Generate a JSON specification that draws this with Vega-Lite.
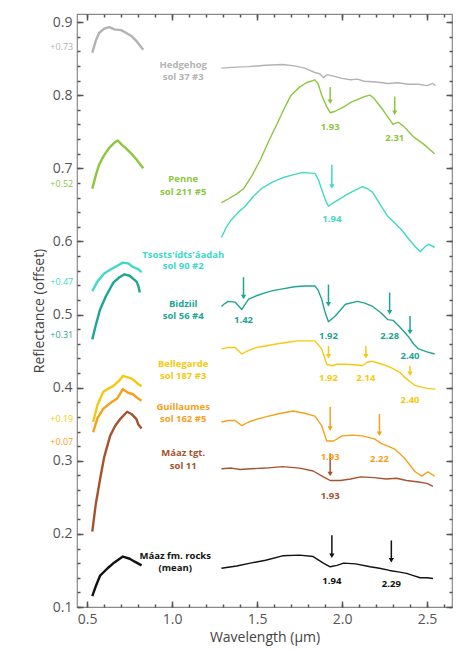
{
  "$schema": "https://vega.github.io/schema/vega-lite/v6.json",
  "width": 375,
  "height": 593,
  "autosize": {"type": "none"},
  "padding": {"left": 77, "top": 14, "right": 15, "bottom": 43},
  "config": {"view": {"stroke": "#8a8a8a", "strokeWidth": 1.2}, "font": "Open Sans", "axis": {"tickColor": "#555", "tickWidth": 1.5, "ticks": true}},
  "datasets": {
    "spectra": [
      {"sample":"Hedgehog","seg":"VNIR","wl":0.53,"r":0.858},{"sample":"Hedgehog","seg":"VNIR","wl":0.55,"r":0.874},{"sample":"Hedgehog","seg":"VNIR","wl":0.57,"r":0.885},{"sample":"Hedgehog","seg":"VNIR","wl":0.6,"r":0.891},{"sample":"Hedgehog","seg":"VNIR","wl":0.63,"r":0.893},{"sample":"Hedgehog","seg":"VNIR","wl":0.66,"r":0.89},{"sample":"Hedgehog","seg":"VNIR","wl":0.7,"r":0.889},{"sample":"Hedgehog","seg":"VNIR","wl":0.73,"r":0.885},{"sample":"Hedgehog","seg":"VNIR","wl":0.76,"r":0.881},{"sample":"Hedgehog","seg":"VNIR","wl":0.79,"r":0.874},{"sample":"Hedgehog","seg":"VNIR","wl":0.81,"r":0.868},{"sample":"Hedgehog","seg":"VNIR","wl":0.83,"r":0.862},
      {"sample":"Hedgehog","seg":"IR","wl":1.29,"r":0.837},{"sample":"Hedgehog","seg":"IR","wl":1.35,"r":0.838},{"sample":"Hedgehog","seg":"IR","wl":1.45,"r":0.839},{"sample":"Hedgehog","seg":"IR","wl":1.55,"r":0.841},{"sample":"Hedgehog","seg":"IR","wl":1.65,"r":0.842},{"sample":"Hedgehog","seg":"IR","wl":1.72,"r":0.84},{"sample":"Hedgehog","seg":"IR","wl":1.78,"r":0.837},{"sample":"Hedgehog","seg":"IR","wl":1.84,"r":0.831},{"sample":"Hedgehog","seg":"IR","wl":1.87,"r":0.829},{"sample":"Hedgehog","seg":"IR","wl":1.89,"r":0.824},{"sample":"Hedgehog","seg":"IR","wl":1.91,"r":0.828},{"sample":"Hedgehog","seg":"IR","wl":1.95,"r":0.826},{"sample":"Hedgehog","seg":"IR","wl":2.0,"r":0.823},{"sample":"Hedgehog","seg":"IR","wl":2.05,"r":0.821},{"sample":"Hedgehog","seg":"IR","wl":2.09,"r":0.822},{"sample":"Hedgehog","seg":"IR","wl":2.13,"r":0.819},{"sample":"Hedgehog","seg":"IR","wl":2.2,"r":0.818},{"sample":"Hedgehog","seg":"IR","wl":2.27,"r":0.816},{"sample":"Hedgehog","seg":"IR","wl":2.33,"r":0.817},{"sample":"Hedgehog","seg":"IR","wl":2.39,"r":0.815},{"sample":"Hedgehog","seg":"IR","wl":2.45,"r":0.815},{"sample":"Hedgehog","seg":"IR","wl":2.5,"r":0.813},{"sample":"Hedgehog","seg":"IR","wl":2.535,"r":0.816},{"sample":"Hedgehog","seg":"IR","wl":2.55,"r":0.813},

      {"sample":"Penne","seg":"VNIR","wl":0.53,"r":0.672},{"sample":"Penne","seg":"VNIR","wl":0.55,"r":0.69},{"sample":"Penne","seg":"VNIR","wl":0.57,"r":0.705},{"sample":"Penne","seg":"VNIR","wl":0.6,"r":0.718},{"sample":"Penne","seg":"VNIR","wl":0.63,"r":0.728},{"sample":"Penne","seg":"VNIR","wl":0.66,"r":0.735},{"sample":"Penne","seg":"VNIR","wl":0.68,"r":0.738},{"sample":"Penne","seg":"VNIR","wl":0.7,"r":0.733},{"sample":"Penne","seg":"VNIR","wl":0.73,"r":0.727},{"sample":"Penne","seg":"VNIR","wl":0.76,"r":0.72},{"sample":"Penne","seg":"VNIR","wl":0.79,"r":0.712},{"sample":"Penne","seg":"VNIR","wl":0.81,"r":0.706},{"sample":"Penne","seg":"VNIR","wl":0.83,"r":0.7},
      {"sample":"Penne","seg":"IR","wl":1.29,"r":0.653},{"sample":"Penne","seg":"IR","wl":1.33,"r":0.658},{"sample":"Penne","seg":"IR","wl":1.38,"r":0.665},{"sample":"Penne","seg":"IR","wl":1.42,"r":0.672},{"sample":"Penne","seg":"IR","wl":1.47,"r":0.69},{"sample":"Penne","seg":"IR","wl":1.52,"r":0.712},{"sample":"Penne","seg":"IR","wl":1.57,"r":0.738},{"sample":"Penne","seg":"IR","wl":1.62,"r":0.762},{"sample":"Penne","seg":"IR","wl":1.66,"r":0.782},{"sample":"Penne","seg":"IR","wl":1.7,"r":0.8},{"sample":"Penne","seg":"IR","wl":1.75,"r":0.811},{"sample":"Penne","seg":"IR","wl":1.79,"r":0.817},{"sample":"Penne","seg":"IR","wl":1.84,"r":0.821},{"sample":"Penne","seg":"IR","wl":1.86,"r":0.815},{"sample":"Penne","seg":"IR","wl":1.88,"r":0.8},{"sample":"Penne","seg":"IR","wl":1.91,"r":0.784},{"sample":"Penne","seg":"IR","wl":1.93,"r":0.776},{"sample":"Penne","seg":"IR","wl":1.96,"r":0.778},{"sample":"Penne","seg":"IR","wl":2.01,"r":0.784},{"sample":"Penne","seg":"IR","wl":2.05,"r":0.79},{"sample":"Penne","seg":"IR","wl":2.09,"r":0.794},{"sample":"Penne","seg":"IR","wl":2.13,"r":0.798},{"sample":"Penne","seg":"IR","wl":2.165,"r":0.8},{"sample":"Penne","seg":"IR","wl":2.19,"r":0.795},{"sample":"Penne","seg":"IR","wl":2.21,"r":0.789},{"sample":"Penne","seg":"IR","wl":2.24,"r":0.78},{"sample":"Penne","seg":"IR","wl":2.27,"r":0.77},{"sample":"Penne","seg":"IR","wl":2.3,"r":0.76},{"sample":"Penne","seg":"IR","wl":2.33,"r":0.763},{"sample":"Penne","seg":"IR","wl":2.36,"r":0.758},{"sample":"Penne","seg":"IR","wl":2.42,"r":0.743},{"sample":"Penne","seg":"IR","wl":2.48,"r":0.733},{"sample":"Penne","seg":"IR","wl":2.545,"r":0.72},

      {"sample":"Tsosts","seg":"VNIR","wl":0.53,"r":0.532},{"sample":"Tsosts","seg":"VNIR","wl":0.56,"r":0.545},{"sample":"Tsosts","seg":"VNIR","wl":0.6,"r":0.556},{"sample":"Tsosts","seg":"VNIR","wl":0.64,"r":0.562},{"sample":"Tsosts","seg":"VNIR","wl":0.68,"r":0.567},{"sample":"Tsosts","seg":"VNIR","wl":0.71,"r":0.571},{"sample":"Tsosts","seg":"VNIR","wl":0.74,"r":0.57},{"sample":"Tsosts","seg":"VNIR","wl":0.77,"r":0.565},{"sample":"Tsosts","seg":"VNIR","wl":0.8,"r":0.562},{"sample":"Tsosts","seg":"VNIR","wl":0.82,"r":0.558},
      {"sample":"Tsosts","seg":"IR","wl":1.29,"r":0.605},{"sample":"Tsosts","seg":"IR","wl":1.32,"r":0.62},{"sample":"Tsosts","seg":"IR","wl":1.35,"r":0.63},{"sample":"Tsosts","seg":"IR","wl":1.39,"r":0.64},{"sample":"Tsosts","seg":"IR","wl":1.43,"r":0.648},{"sample":"Tsosts","seg":"IR","wl":1.48,"r":0.662},{"sample":"Tsosts","seg":"IR","wl":1.53,"r":0.673},{"sample":"Tsosts","seg":"IR","wl":1.59,"r":0.681},{"sample":"Tsosts","seg":"IR","wl":1.65,"r":0.687},{"sample":"Tsosts","seg":"IR","wl":1.71,"r":0.691},{"sample":"Tsosts","seg":"IR","wl":1.765,"r":0.694},{"sample":"Tsosts","seg":"IR","wl":1.84,"r":0.693},{"sample":"Tsosts","seg":"IR","wl":1.86,"r":0.685},{"sample":"Tsosts","seg":"IR","wl":1.88,"r":0.671},{"sample":"Tsosts","seg":"IR","wl":1.905,"r":0.655},{"sample":"Tsosts","seg":"IR","wl":1.92,"r":0.648},{"sample":"Tsosts","seg":"IR","wl":1.95,"r":0.653},{"sample":"Tsosts","seg":"IR","wl":1.98,"r":0.657},{"sample":"Tsosts","seg":"IR","wl":2.02,"r":0.663},{"sample":"Tsosts","seg":"IR","wl":2.06,"r":0.668},{"sample":"Tsosts","seg":"IR","wl":2.12,"r":0.675},{"sample":"Tsosts","seg":"IR","wl":2.15,"r":0.672},{"sample":"Tsosts","seg":"IR","wl":2.18,"r":0.667},{"sample":"Tsosts","seg":"IR","wl":2.22,"r":0.652},{"sample":"Tsosts","seg":"IR","wl":2.27,"r":0.634},{"sample":"Tsosts","seg":"IR","wl":2.31,"r":0.625},{"sample":"Tsosts","seg":"IR","wl":2.35,"r":0.616},{"sample":"Tsosts","seg":"IR","wl":2.39,"r":0.604},{"sample":"Tsosts","seg":"IR","wl":2.43,"r":0.593},{"sample":"Tsosts","seg":"IR","wl":2.46,"r":0.586},{"sample":"Tsosts","seg":"IR","wl":2.49,"r":0.593},{"sample":"Tsosts","seg":"IR","wl":2.51,"r":0.596},{"sample":"Tsosts","seg":"IR","wl":2.545,"r":0.592},

      {"sample":"Bidziil","seg":"VNIR","wl":0.53,"r":0.466},{"sample":"Bidziil","seg":"VNIR","wl":0.55,"r":0.485},{"sample":"Bidziil","seg":"VNIR","wl":0.576,"r":0.507},{"sample":"Bidziil","seg":"VNIR","wl":0.61,"r":0.525},{"sample":"Bidziil","seg":"VNIR","wl":0.655,"r":0.544},{"sample":"Bidziil","seg":"VNIR","wl":0.69,"r":0.551},{"sample":"Bidziil","seg":"VNIR","wl":0.72,"r":0.555},{"sample":"Bidziil","seg":"VNIR","wl":0.75,"r":0.553},{"sample":"Bidziil","seg":"VNIR","wl":0.79,"r":0.545},{"sample":"Bidziil","seg":"VNIR","wl":0.8,"r":0.54},{"sample":"Bidziil","seg":"VNIR","wl":0.81,"r":0.53},
      {"sample":"Bidziil","seg":"IR","wl":1.29,"r":0.511},{"sample":"Bidziil","seg":"IR","wl":1.31,"r":0.515},{"sample":"Bidziil","seg":"IR","wl":1.33,"r":0.518},{"sample":"Bidziil","seg":"IR","wl":1.37,"r":0.517},{"sample":"Bidziil","seg":"IR","wl":1.41,"r":0.507},{"sample":"Bidziil","seg":"IR","wl":1.45,"r":0.521},{"sample":"Bidziil","seg":"IR","wl":1.5,"r":0.526},{"sample":"Bidziil","seg":"IR","wl":1.55,"r":0.53},{"sample":"Bidziil","seg":"IR","wl":1.6,"r":0.533},{"sample":"Bidziil","seg":"IR","wl":1.65,"r":0.535},{"sample":"Bidziil","seg":"IR","wl":1.72,"r":0.538},{"sample":"Bidziil","seg":"IR","wl":1.78,"r":0.539},{"sample":"Bidziil","seg":"IR","wl":1.84,"r":0.539},{"sample":"Bidziil","seg":"IR","wl":1.86,"r":0.533},{"sample":"Bidziil","seg":"IR","wl":1.88,"r":0.521},{"sample":"Bidziil","seg":"IR","wl":1.9,"r":0.503},{"sample":"Bidziil","seg":"IR","wl":1.92,"r":0.49},{"sample":"Bidziil","seg":"IR","wl":1.94,"r":0.494},{"sample":"Bidziil","seg":"IR","wl":1.96,"r":0.498},{"sample":"Bidziil","seg":"IR","wl":2.02,"r":0.514},{"sample":"Bidziil","seg":"IR","wl":2.09,"r":0.518},{"sample":"Bidziil","seg":"IR","wl":2.13,"r":0.516},{"sample":"Bidziil","seg":"IR","wl":2.18,"r":0.511},{"sample":"Bidziil","seg":"IR","wl":2.23,"r":0.502},{"sample":"Bidziil","seg":"IR","wl":2.27,"r":0.493},{"sample":"Bidziil","seg":"IR","wl":2.3,"r":0.492},{"sample":"Bidziil","seg":"IR","wl":2.34,"r":0.483},{"sample":"Bidziil","seg":"IR","wl":2.39,"r":0.47},{"sample":"Bidziil","seg":"IR","wl":2.42,"r":0.46},{"sample":"Bidziil","seg":"IR","wl":2.45,"r":0.453},{"sample":"Bidziil","seg":"IR","wl":2.5,"r":0.449},{"sample":"Bidziil","seg":"IR","wl":2.545,"r":0.446},

      {"sample":"Bellegarde","seg":"VNIR","wl":0.535,"r":0.353},{"sample":"Bellegarde","seg":"VNIR","wl":0.56,"r":0.376},{"sample":"Bellegarde","seg":"VNIR","wl":0.594,"r":0.394},{"sample":"Bellegarde","seg":"VNIR","wl":0.62,"r":0.398},{"sample":"Bellegarde","seg":"VNIR","wl":0.653,"r":0.402},{"sample":"Bellegarde","seg":"VNIR","wl":0.69,"r":0.41},{"sample":"Bellegarde","seg":"VNIR","wl":0.71,"r":0.416},{"sample":"Bellegarde","seg":"VNIR","wl":0.74,"r":0.414},{"sample":"Bellegarde","seg":"VNIR","wl":0.765,"r":0.412},{"sample":"Bellegarde","seg":"VNIR","wl":0.8,"r":0.405},{"sample":"Bellegarde","seg":"VNIR","wl":0.82,"r":0.402},
      {"sample":"Bellegarde","seg":"IR","wl":1.29,"r":0.453},{"sample":"Bellegarde","seg":"IR","wl":1.33,"r":0.455},{"sample":"Bellegarde","seg":"IR","wl":1.37,"r":0.455},{"sample":"Bellegarde","seg":"IR","wl":1.41,"r":0.446},{"sample":"Bellegarde","seg":"IR","wl":1.45,"r":0.451},{"sample":"Bellegarde","seg":"IR","wl":1.5,"r":0.455},{"sample":"Bellegarde","seg":"IR","wl":1.55,"r":0.457},{"sample":"Bellegarde","seg":"IR","wl":1.62,"r":0.46},{"sample":"Bellegarde","seg":"IR","wl":1.68,"r":0.462},{"sample":"Bellegarde","seg":"IR","wl":1.74,"r":0.464},{"sample":"Bellegarde","seg":"IR","wl":1.84,"r":0.464},{"sample":"Bellegarde","seg":"IR","wl":1.88,"r":0.453},{"sample":"Bellegarde","seg":"IR","wl":1.91,"r":0.432},{"sample":"Bellegarde","seg":"IR","wl":1.94,"r":0.43},{"sample":"Bellegarde","seg":"IR","wl":1.97,"r":0.432},{"sample":"Bellegarde","seg":"IR","wl":2.02,"r":0.432},{"sample":"Bellegarde","seg":"IR","wl":2.09,"r":0.431},{"sample":"Bellegarde","seg":"IR","wl":2.12,"r":0.43},{"sample":"Bellegarde","seg":"IR","wl":2.15,"r":0.435},{"sample":"Bellegarde","seg":"IR","wl":2.18,"r":0.436},{"sample":"Bellegarde","seg":"IR","wl":2.22,"r":0.433},{"sample":"Bellegarde","seg":"IR","wl":2.26,"r":0.43},{"sample":"Bellegarde","seg":"IR","wl":2.3,"r":0.426},{"sample":"Bellegarde","seg":"IR","wl":2.34,"r":0.421},{"sample":"Bellegarde","seg":"IR","wl":2.37,"r":0.414},{"sample":"Bellegarde","seg":"IR","wl":2.4,"r":0.408},{"sample":"Bellegarde","seg":"IR","wl":2.43,"r":0.403},{"sample":"Bellegarde","seg":"IR","wl":2.46,"r":0.401},{"sample":"Bellegarde","seg":"IR","wl":2.5,"r":0.399},{"sample":"Bellegarde","seg":"IR","wl":2.55,"r":0.398},

      {"sample":"Guillaumes","seg":"VNIR","wl":0.535,"r":0.339},{"sample":"Guillaumes","seg":"VNIR","wl":0.56,"r":0.358},{"sample":"Guillaumes","seg":"VNIR","wl":0.594,"r":0.371},{"sample":"Guillaumes","seg":"VNIR","wl":0.63,"r":0.378},{"sample":"Guillaumes","seg":"VNIR","wl":0.676,"r":0.385},{"sample":"Guillaumes","seg":"VNIR","wl":0.71,"r":0.398},{"sample":"Guillaumes","seg":"VNIR","wl":0.74,"r":0.393},{"sample":"Guillaumes","seg":"VNIR","wl":0.77,"r":0.391},{"sample":"Guillaumes","seg":"VNIR","wl":0.8,"r":0.385},{"sample":"Guillaumes","seg":"VNIR","wl":0.82,"r":0.382},
      {"sample":"Guillaumes","seg":"IR","wl":1.29,"r":0.353},{"sample":"Guillaumes","seg":"IR","wl":1.33,"r":0.355},{"sample":"Guillaumes","seg":"IR","wl":1.37,"r":0.355},{"sample":"Guillaumes","seg":"IR","wl":1.41,"r":0.348},{"sample":"Guillaumes","seg":"IR","wl":1.45,"r":0.353},{"sample":"Guillaumes","seg":"IR","wl":1.5,"r":0.357},{"sample":"Guillaumes","seg":"IR","wl":1.55,"r":0.36},{"sample":"Guillaumes","seg":"IR","wl":1.62,"r":0.364},{"sample":"Guillaumes","seg":"IR","wl":1.71,"r":0.368},{"sample":"Guillaumes","seg":"IR","wl":1.78,"r":0.365},{"sample":"Guillaumes","seg":"IR","wl":1.84,"r":0.361},{"sample":"Guillaumes","seg":"IR","wl":1.88,"r":0.348},{"sample":"Guillaumes","seg":"IR","wl":1.91,"r":0.327},{"sample":"Guillaumes","seg":"IR","wl":1.95,"r":0.327},{"sample":"Guillaumes","seg":"IR","wl":2.0,"r":0.334},{"sample":"Guillaumes","seg":"IR","wl":2.06,"r":0.335},{"sample":"Guillaumes","seg":"IR","wl":2.12,"r":0.334},{"sample":"Guillaumes","seg":"IR","wl":2.19,"r":0.33},{"sample":"Guillaumes","seg":"IR","wl":2.235,"r":0.323},{"sample":"Guillaumes","seg":"IR","wl":2.27,"r":0.32},{"sample":"Guillaumes","seg":"IR","wl":2.31,"r":0.316},{"sample":"Guillaumes","seg":"IR","wl":2.37,"r":0.303},{"sample":"Guillaumes","seg":"IR","wl":2.43,"r":0.285},{"sample":"Guillaumes","seg":"IR","wl":2.47,"r":0.279},{"sample":"Guillaumes","seg":"IR","wl":2.505,"r":0.285},{"sample":"Guillaumes","seg":"IR","wl":2.545,"r":0.279},

      {"sample":"MaazTgt","seg":"VNIR","wl":0.53,"r":0.203},{"sample":"MaazTgt","seg":"VNIR","wl":0.55,"r":0.24},{"sample":"MaazTgt","seg":"VNIR","wl":0.576,"r":0.275},{"sample":"MaazTgt","seg":"VNIR","wl":0.6,"r":0.305},{"sample":"MaazTgt","seg":"VNIR","wl":0.635,"r":0.334},{"sample":"MaazTgt","seg":"VNIR","wl":0.665,"r":0.348},{"sample":"MaazTgt","seg":"VNIR","wl":0.694,"r":0.357},{"sample":"MaazTgt","seg":"VNIR","wl":0.735,"r":0.367},{"sample":"MaazTgt","seg":"VNIR","wl":0.76,"r":0.364},{"sample":"MaazTgt","seg":"VNIR","wl":0.79,"r":0.357},{"sample":"MaazTgt","seg":"VNIR","wl":0.8,"r":0.35},{"sample":"MaazTgt","seg":"VNIR","wl":0.82,"r":0.344},
      {"sample":"MaazTgt","seg":"IR","wl":1.29,"r":0.289},{"sample":"MaazTgt","seg":"IR","wl":1.35,"r":0.29},{"sample":"MaazTgt","seg":"IR","wl":1.4,"r":0.288},{"sample":"MaazTgt","seg":"IR","wl":1.46,"r":0.289},{"sample":"MaazTgt","seg":"IR","wl":1.55,"r":0.29},{"sample":"MaazTgt","seg":"IR","wl":1.65,"r":0.292},{"sample":"MaazTgt","seg":"IR","wl":1.75,"r":0.29},{"sample":"MaazTgt","seg":"IR","wl":1.83,"r":0.286},{"sample":"MaazTgt","seg":"IR","wl":1.89,"r":0.278},{"sample":"MaazTgt","seg":"IR","wl":1.93,"r":0.273},{"sample":"MaazTgt","seg":"IR","wl":1.99,"r":0.273},{"sample":"MaazTgt","seg":"IR","wl":2.05,"r":0.275},{"sample":"MaazTgt","seg":"IR","wl":2.11,"r":0.278},{"sample":"MaazTgt","seg":"IR","wl":2.19,"r":0.277},{"sample":"MaazTgt","seg":"IR","wl":2.26,"r":0.275},{"sample":"MaazTgt","seg":"IR","wl":2.32,"r":0.276},{"sample":"MaazTgt","seg":"IR","wl":2.38,"r":0.273},{"sample":"MaazTgt","seg":"IR","wl":2.45,"r":0.271},{"sample":"MaazTgt","seg":"IR","wl":2.5,"r":0.269},{"sample":"MaazTgt","seg":"IR","wl":2.535,"r":0.265},

      {"sample":"MaazFm","seg":"VNIR","wl":0.53,"r":0.115},{"sample":"MaazFm","seg":"VNIR","wl":0.55,"r":0.128},{"sample":"MaazFm","seg":"VNIR","wl":0.576,"r":0.143},{"sample":"MaazFm","seg":"VNIR","wl":0.62,"r":0.153},{"sample":"MaazFm","seg":"VNIR","wl":0.66,"r":0.161},{"sample":"MaazFm","seg":"VNIR","wl":0.71,"r":0.169},{"sample":"MaazFm","seg":"VNIR","wl":0.75,"r":0.166},{"sample":"MaazFm","seg":"VNIR","wl":0.78,"r":0.162},{"sample":"MaazFm","seg":"VNIR","wl":0.82,"r":0.157},
      {"sample":"MaazFm","seg":"IR","wl":1.29,"r":0.153},{"sample":"MaazFm","seg":"IR","wl":1.38,"r":0.156},{"sample":"MaazFm","seg":"IR","wl":1.46,"r":0.16},{"sample":"MaazFm","seg":"IR","wl":1.55,"r":0.164},{"sample":"MaazFm","seg":"IR","wl":1.65,"r":0.17},{"sample":"MaazFm","seg":"IR","wl":1.75,"r":0.171},{"sample":"MaazFm","seg":"IR","wl":1.83,"r":0.169},{"sample":"MaazFm","seg":"IR","wl":1.89,"r":0.16},{"sample":"MaazFm","seg":"IR","wl":1.93,"r":0.155},{"sample":"MaazFm","seg":"IR","wl":1.97,"r":0.157},{"sample":"MaazFm","seg":"IR","wl":2.01,"r":0.16},{"sample":"MaazFm","seg":"IR","wl":2.08,"r":0.159},{"sample":"MaazFm","seg":"IR","wl":2.165,"r":0.155},{"sample":"MaazFm","seg":"IR","wl":2.22,"r":0.153},{"sample":"MaazFm","seg":"IR","wl":2.28,"r":0.15},{"sample":"MaazFm","seg":"IR","wl":2.33,"r":0.148},{"sample":"MaazFm","seg":"IR","wl":2.38,"r":0.146},{"sample":"MaazFm","seg":"IR","wl":2.42,"r":0.143},{"sample":"MaazFm","seg":"IR","wl":2.46,"r":0.14},{"sample":"MaazFm","seg":"IR","wl":2.5,"r":0.14},{"sample":"MaazFm","seg":"IR","wl":2.535,"r":0.139}
    ],
    "bands": [
      {"sample":"Penne","band":1.93,"top":0.811,"bot":0.791,"lab":0.757},
      {"sample":"Penne","band":2.31,"top":0.798,"bot":0.776,"lab":0.742},
      {"sample":"Tsosts","band":1.94,"top":0.705,"bot":0.675,"lab":0.631},
      {"sample":"Bidziil","band":1.42,"top":0.551,"bot":0.524,"lab":0.492},
      {"sample":"Bidziil","band":1.92,"top":0.541,"bot":0.514,"lab":0.47},
      {"sample":"Bidziil","band":2.28,"top":0.53,"bot":0.503,"lab":0.47},
      {"sample":"Bidziil","band":2.4,"top":0.498,"bot":0.476,"lab":0.443},
      {"sample":"Bellegarde","band":1.92,"top":0.457,"bot":0.443,"lab":0.413},
      {"sample":"Bellegarde","band":2.14,"top":0.457,"bot":0.443,"lab":0.413},
      {"sample":"Bellegarde","band":2.4,"top":0.43,"bot":0.419,"lab":0.383},
      {"sample":"Guillaumes","band":1.93,"top":0.374,"bot":0.344,"lab":0.305},
      {"sample":"Guillaumes","band":2.22,"top":0.364,"bot":0.337,"lab":0.303},
      {"sample":"MaazTgt","band":1.93,"top":0.31,"bot":0.282,"lab":0.252},
      {"sample":"MaazFm","band":1.94,"top":0.198,"bot":0.17,"lab":0.136},
      {"sample":"MaazFm","band":2.29,"top":0.191,"bot":0.164,"lab":0.132}
    ],
    "names": [
      {"sample":"Hedgehog","text":"Hedgehog","wl":1.065,"r":0.841},
      {"sample":"Hedgehog","text":"sol 37 #3","wl":1.065,"r":0.825},
      {"sample":"Penne","text":"Penne","wl":1.065,"r":0.686},
      {"sample":"Penne","text":"sol 211 #5","wl":1.065,"r":0.668},
      {"sample":"Tsosts","text":"Tsosts'ídts'áadah","wl":1.065,"r":0.582},
      {"sample":"Tsosts","text":"sol 90 #2","wl":1.065,"r":0.566},
      {"sample":"Bidziil","text":"Bidziil","wl":1.065,"r":0.514},
      {"sample":"Bidziil","text":"sol 56 #4","wl":1.065,"r":0.498},
      {"sample":"Bellegarde","text":"Bellegarde","wl":1.065,"r":0.432},
      {"sample":"Bellegarde","text":"sol 187 #3","wl":1.065,"r":0.416},
      {"sample":"Guillaumes","text":"Guillaumes","wl":1.065,"r":0.374},
      {"sample":"Guillaumes","text":"sol 162 #5","wl":1.065,"r":0.357},
      {"sample":"MaazTgt","text":"Máaz tgt.","wl":1.065,"r":0.31},
      {"sample":"MaazTgt","text":"sol 11","wl":1.065,"r":0.293},
      {"sample":"MaazFm","text":"Máaz fm. rocks","wl":1.018,"r":0.17},
      {"sample":"MaazFm","text":"(mean)","wl":1.018,"r":0.154}
    ],
    "offsets": [
      {"sample":"Hedgehog","text":"+0.73","r":0.866},
      {"sample":"Penne","text":"+0.52","r":0.678},
      {"sample":"Tsosts","text":"+0.47","r":0.544},
      {"sample":"Bidziil","text":"+0.31","r":0.472},
      {"sample":"Bellegarde","text":"+0.19","r":0.357},
      {"sample":"Guillaumes","text":"+0.07","r":0.326}
    ]
  },
  "resolve": {"scale": {"x": "shared", "y": "shared", "color": "shared"}, "axis": {"x": "independent", "y": "independent"}},
  "layer": [
    {
      "data": {"name": "spectra"},
      "mark": {"type": "line", "strokeJoin": "round"},
      "encoding": {
        "x": {"field": "wl", "type": "quantitative", "scale": {"domain": [0.44, 2.647], "nice": false, "zero": false},
          "axis": {"orient": "bottom", "values": [0.5, 1.0, 1.5, 2.0, 2.5], "format": ".1f", "offset": -6, "tickSize": 6, "labelPadding": 5, "domain": false, "grid": false, "labelFontSize": 14, "labelColor": "#555", "title": "Wavelength (µm)", "titleFontSize": 14, "titleFontWeight": "normal", "titleColor": "#444", "titlePadding": 4}},
        "y": {"field": "r", "type": "quantitative", "scale": {"domain": [0.1, 0.911], "nice": false, "zero": false},
          "axis": {"orient": "left", "values": [0.1, 0.2, 0.3, 0.4, 0.5, 0.6, 0.7, 0.8, 0.9], "format": ".1f", "offset": -6, "tickSize": 6, "labelPadding": 5, "domain": false, "grid": false, "labelFontSize": 14, "labelColor": "#555", "title": "Reflectance (offset)", "titleFontSize": 14, "titleFontWeight": "normal", "titleColor": "#444", "titlePadding": 6}},
        "color": {"field": "sample", "type": "nominal", "legend": null,
          "scale": {"domain": ["Hedgehog", "Penne", "Tsosts", "Bidziil", "Bellegarde", "Guillaumes", "MaazTgt", "MaazFm"],
                    "range": ["#b3b3b3", "#8dc63f", "#40d9c8", "#1fa595", "#f6c90e", "#f5a11c", "#a5532f", "#111111"]}},
        "strokeWidth": {"field": "seg", "type": "ordinal", "legend": null, "scale": {"domain": ["VNIR", "IR"], "range": [2.4, 1.4]}},
        "detail": {"field": "seg"}
      }
    },
    {
      "data": {"name": "bands"},
      "mark": {"type": "rule", "strokeWidth": 1.5},
      "encoding": {
        "x": {"field": "band", "type": "quantitative", "scale": {"domain": [0.44, 2.647], "nice": false, "zero": false},
          "axis": {"orient": "top", "values": [0.5, 1.0, 1.5, 2.0, 2.5], "labels": false, "offset": -6, "tickSize": 6, "domain": false, "grid": false, "title": null}},
        "y": {"field": "top", "type": "quantitative", "scale": {"domain": [0.1, 0.911], "nice": false, "zero": false},
          "axis": {"orient": "right", "values": [0.1, 0.2, 0.3, 0.4, 0.5, 0.6, 0.7, 0.8, 0.9], "labels": false, "offset": -6, "tickSize": 6, "domain": false, "grid": false, "title": null}},
        "y2": {"field": "bot"},
        "color": {"field": "sample", "type": "nominal", "legend": null}
      }
    },
    {
      "data": {"name": "bands"},
      "mark": {"type": "point", "shape": "triangle-down", "filled": true, "size": 28, "opacity": 1},
      "encoding": {
        "x": {"field": "band", "type": "quantitative", "scale": {"domain": [0.44, 2.647], "nice": false, "zero": false},
          "axis": {"orient": "bottom", "values": [0.5,0.6,0.7,0.8,0.9,1.0,1.1,1.2,1.3,1.4,1.5,1.6,1.7,1.8,1.9,2.0,2.1,2.2,2.3,2.4,2.5,2.6], "labels": false, "offset": -3, "tickSize": 3, "domain": false, "grid": false, "title": null}},
        "y": {"field": "bot", "type": "quantitative", "scale": {"domain": [0.1, 0.911], "nice": false, "zero": false},
          "axis": {"orient": "left", "values": [0.1,0.12,0.14,0.16,0.18,0.2,0.22,0.24,0.26,0.28,0.3,0.32,0.34,0.36,0.38,0.4,0.42,0.44,0.46,0.48,0.5,0.52,0.54,0.56,0.58,0.6,0.62,0.64,0.66,0.68,0.7,0.72,0.74,0.76,0.78,0.8,0.82,0.84,0.86,0.88,0.9], "labels": false, "offset": -3, "tickSize": 3, "domain": false, "grid": false, "title": null}},
        "color": {"field": "sample", "type": "nominal", "legend": null}
      }
    },
    {
      "data": {"name": "bands"},
      "mark": {"type": "text", "fontSize": 9.5, "fontWeight": "bold", "baseline": "middle", "align": "center"},
      "encoding": {
        "x": {"field": "band", "type": "quantitative", "scale": {"domain": [0.44, 2.647], "nice": false, "zero": false},
          "axis": {"orient": "top", "values": [0.5,0.6,0.7,0.8,0.9,1.0,1.1,1.2,1.3,1.4,1.5,1.6,1.7,1.8,1.9,2.0,2.1,2.2,2.3,2.4,2.5,2.6], "labels": false, "offset": -3, "tickSize": 3, "domain": false, "grid": false, "title": null}},
        "y": {"field": "lab", "type": "quantitative", "scale": {"domain": [0.1, 0.911], "nice": false, "zero": false},
          "axis": {"orient": "right", "values": [0.1,0.12,0.14,0.16,0.18,0.2,0.22,0.24,0.26,0.28,0.3,0.32,0.34,0.36,0.38,0.4,0.42,0.44,0.46,0.48,0.5,0.52,0.54,0.56,0.58,0.6,0.62,0.64,0.66,0.68,0.7,0.72,0.74,0.76,0.78,0.8,0.82,0.84,0.86,0.88,0.9], "labels": false, "offset": -3, "tickSize": 3, "domain": false, "grid": false, "title": null}},
        "text": {"field": "band", "type": "quantitative", "format": ".2f"},
        "color": {"field": "sample", "type": "nominal", "legend": null}
      }
    },
    {
      "data": {"name": "names"},
      "mark": {"type": "text", "fontSize": 9.5, "fontWeight": "bold", "baseline": "middle", "align": "center"},
      "encoding": {
        "x": {"field": "wl", "type": "quantitative", "scale": {"domain": [0.44, 2.647], "nice": false, "zero": false}, "axis": null},
        "y": {"field": "r", "type": "quantitative", "scale": {"domain": [0.1, 0.911], "nice": false, "zero": false}, "axis": null},
        "text": {"field": "text"},
        "color": {"field": "sample", "type": "nominal", "legend": null}
      }
    },
    {
      "data": {"name": "offsets"},
      "mark": {"type": "text", "fontSize": 9, "baseline": "middle", "align": "right"},
      "encoding": {
        "x": {"datum": 0.418, "type": "quantitative", "scale": {"domain": [0.44, 2.647], "nice": false, "zero": false}, "axis": null},
        "y": {"field": "r", "type": "quantitative", "scale": {"domain": [0.1, 0.911], "nice": false, "zero": false}, "axis": null},
        "text": {"field": "text"},
        "color": {"field": "sample", "type": "nominal", "legend": null}
      }
    }
  ]
}
